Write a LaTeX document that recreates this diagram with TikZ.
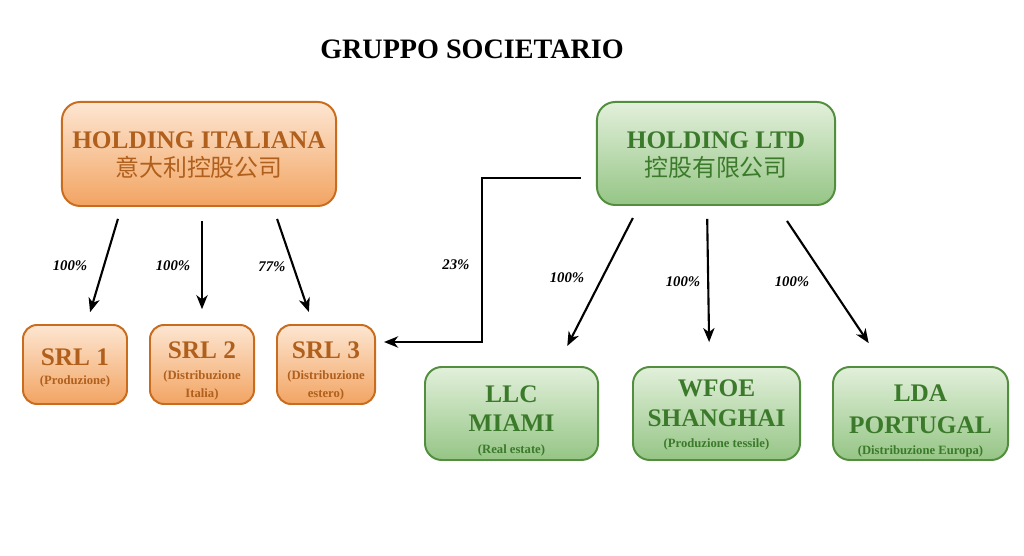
\documentclass[tikz,border=0pt]{standalone}
\usepackage{fontspec}
\setmainfont{Liberation Serif}
\newfontfamily\cjk{Noto Sans CJK SC}
\usetikzlibrary{arrows.meta,calc}

\definecolor{ittop}{HTML}{FDE6D2}
\definecolor{itbot}{HTML}{F2A462}
\definecolor{itline}{HTML}{C96C1E}
\definecolor{ittext}{HTML}{B0601C}
\definecolor{ltdtop}{HTML}{E2F0DB}
\definecolor{ltdbot}{HTML}{95C585}
\definecolor{ltdline}{HTML}{528E3E}
\definecolor{ltdtext}{HTML}{3C7A2B}

\newcommand{\desc}[1]{{\fontsize{9}{11}\selectfont #1}}
\newcommand{\cn}[1]{{\cjk\mdseries\fontsize{17}{20}\selectfont #1}}
\newcommand{\toprow}[1]{\rule{0pt}{#1}}

\begin{document}
\begin{tikzpicture}[x=0.025cm, y=-0.025cm,
		itbox/.style={draw=itline, line width=1.4pt, top color=ittop, bottom color=itbot, text=ittext, align=center, inner sep=0pt, font=\bfseries\fontsize{18}{21}\selectfont},
		ltdbox/.style={draw=ltdline, line width=1.4pt, top color=ltdtop, bottom color=ltdbot, text=ltdtext, align=center, inner sep=0pt, font=\bfseries\fontsize{18}{21}\selectfont},
		arr/.style={-{Stealth[length=10pt, width=8pt, inset=3pt]}, line width=1.5pt},
		pct/.style={font=\bfseries\itshape\fontsize{10.5}{12}\selectfont}]
		\useasboundingbox (0,0) rectangle (1024,556);
		\node[font=\bfseries\fontsize{20}{22}\selectfont] (title) at (472,49) {GRUPPO SOCIETARIO};
		% holdings
		\node[itbox, rounded corners=13pt, minimum width=6.85cm, minimum height=2.6cm] (hit) at (199,154) {\toprow{14pt}HOLDING ITALIANA\\[-1pt]\cn{意大利控股公司}};
		\node[ltdbox, rounded corners=13pt, minimum width=5.95cm, minimum height=2.575cm] (hlt) at (716,153.5) {\toprow{14pt}HOLDING LTD\\[-1pt]\cn{控股有限公司}};
		% italian companies
		\node[itbox, rounded corners=10pt, minimum width=2.6cm, minimum height=1.975cm] (srl1) at (75,364.5) {\toprow{17pt}SRL 1\\[-7pt]\desc{(Produzione)}};
		\node[itbox, rounded corners=10pt, minimum width=2.6cm, minimum height=1.975cm] (srl2) at (202,364.5) {\toprow{21pt}SRL 2\\[-6.2pt]\desc{(Distribuzione}\\[-8.2pt]\desc{Italia)}};
		\node[itbox, rounded corners=10pt, minimum width=2.45cm, minimum height=1.975cm] (srl3) at (326,364.5) {\toprow{21pt}SRL 3\\[-6.2pt]\desc{(Distribuzione}\\[-8.2pt]\desc{estero)}};
		% foreign companies
		\node[ltdbox, rounded corners=12pt, minimum width=4.325cm, minimum height=2.325cm] (llc) at (511.5,413.5) {\toprow{22.5pt}LLC\\[-0.4pt]MIAMI\\[-5pt]\desc{(Real estate)}};
		\node[ltdbox, rounded corners=12pt, minimum width=4.175cm, minimum height=2.325cm] (wfoe) at (716.5,413.5) {\toprow{14pt}WFOE\\[0.3pt]SHANGHAI\\[-5.5pt]\desc{(Produzione tessile)}};
		\node[ltdbox, rounded corners=12pt, minimum width=4.375cm, minimum height=2.325cm] (lda) at (920.5,413.5) {\toprow{22.5pt}LDA\\[1.6pt]PORTUGAL\\[-6pt]\desc{(Distribuzione Europa)}};
		% shares
		\draw[arr, shorten <=8.8pt, shorten >=8.8pt] ($(hit.south)+(-77.5,0)$) -- ($(srl1.north)+(11.5,0)$);
		\draw[arr, shorten <=10pt, shorten >=10.5pt] ($(hit.south)+(3,0)$) -- (srl2.north);
		\draw[arr, shorten <=9pt, shorten >=9pt] ($(hit.south)+(74,0)$) -- ($(srl3.north)+(-13,0)$);
		\draw[arr] ($(hlt.west)+(-15,24.5)$) -- ++(-99,0) |- ($(srl3.east)+(8,-22.5)$);
		\draw[arr, shorten <=9.6pt, shorten >=16pt] ($(hlt.south)+(-77,0)$) -- ($(llc.north)+(45.5,0)$);
		\draw[arr, shorten <=9.2pt, shorten >=17pt] ($(hlt.south)+(-9,0)$) -- ($(wfoe.north)+(-7,0)$);
		\draw[arr, shorten <=12.8pt, shorten >=19.6pt] ($(hlt.south)+(61,0)$) -- ($(lda.north)+(-36.5,0)$);
		\node[pct] (p1) at (70,266) {100\%};
		\node[pct] (p2) at (173,266) {100\%};
		\node[pct] (p3) at (272,267) {77\%};
		\node[pct] (p4) at (456,265) {23\%};
		\node[pct] (p5) at (567,278) {100\%};
		\node[pct] (p6) at (683,282) {100\%};
		\node[pct] (p7) at (792,282) {100\%};
\end{tikzpicture}
\end{document}
